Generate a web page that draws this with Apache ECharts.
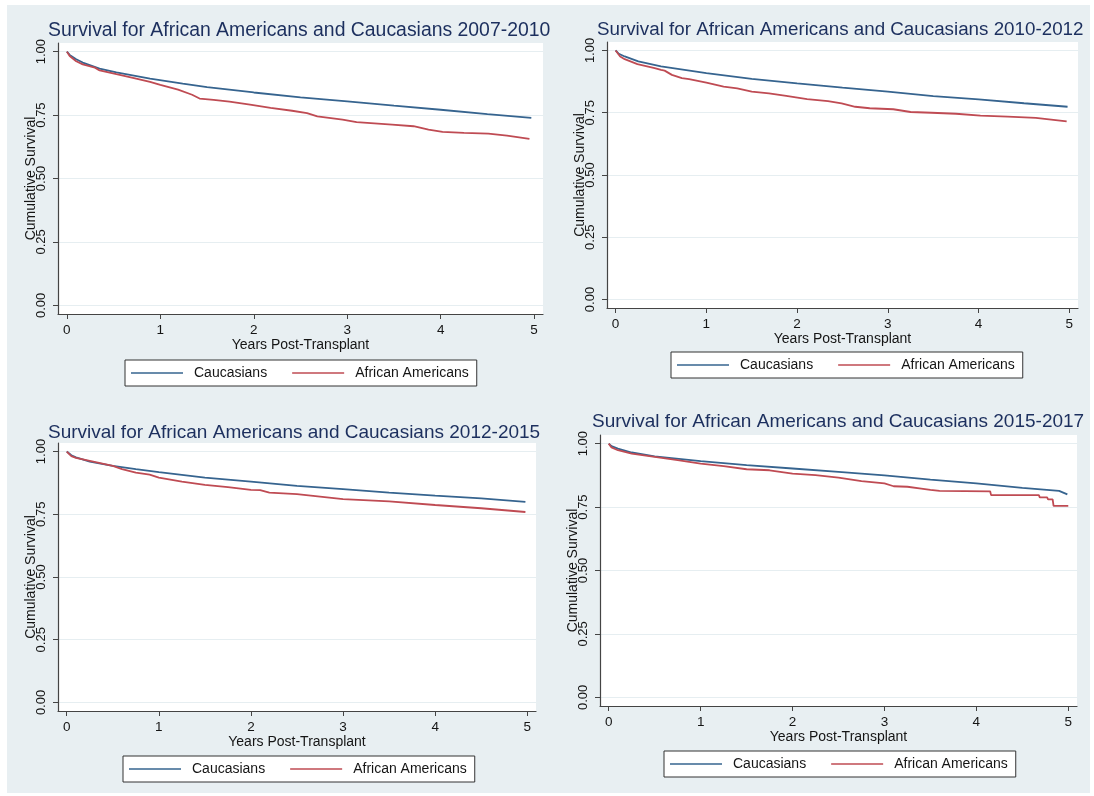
<!DOCTYPE html>
<html><head><meta charset="utf-8">
<script src="https://cdn.jsdelivr.net/npm/echarts@6/dist/echarts.min.js"></script>
<style>html,body{margin:0;padding:0;background:#fff}#c{width:1094px;height:796px}</style>
</head><body><div id="c"></div><script>
// ---- data ----
const titles = [
  'Survival for African Americans and Caucasians 2007-2010',
  'Survival for African Americans and Caucasians 2010-2012',
  'Survival for African Americans and Caucasians 2012-2015',
  'Survival for African Americans and Caucasians 2015-2017'
];
const seriesNames = ['Caucasians', 'African Americans'];
const xName = 'Years Post-Transplant';
const yName = 'Cumulative Survival';
const xTicks = [0, 1, 2, 3, 4, 5];
const yTicks = [0, 0.25, 0.5, 0.75, 1];

const p1CaucT = [0, 0.03, 0.1, 0.17, 0.35, 0.53, 0.89, 1.24, 1.5, 2, 2.5, 3, 3.5, 4, 4.5, 4.97];
const p1CaucS = [1.0, 0.987, 0.970, 0.957, 0.933, 0.918, 0.894, 0.874, 0.860, 0.839, 0.820, 0.804, 0.787, 0.771, 0.754, 0.739];
const p1AfamT = [0, 0.03, 0.1, 0.17, 0.3, 0.35, 0.53, 0.73, 0.89, 1.0, 1.19, 1.34, 1.42, 1.57, 1.74, 1.96, 2.18, 2.41, 2.57, 2.68, 2.95, 3.1, 3.48, 3.71, 3.87, 4.02, 4.25, 4.51, 4.71, 4.95];
const p1AfamS = [1.0, 0.983, 0.962, 0.950, 0.937, 0.926, 0.911, 0.895, 0.881, 0.869, 0.850, 0.830, 0.815, 0.810, 0.803, 0.791, 0.778, 0.767, 0.758, 0.745, 0.732, 0.722, 0.712, 0.706, 0.693, 0.684, 0.680, 0.677, 0.669, 0.656];

const p2CaucT = [0, 0.03, 0.1, 0.25, 0.5, 1, 1.5, 2, 2.5, 3, 3.5, 4, 4.5, 4.98];
const p2CaucS = [1.0, 0.988, 0.976, 0.956, 0.936, 0.909, 0.886, 0.868, 0.851, 0.835, 0.817, 0.804, 0.788, 0.774];
const p2AfamT = [0, 0.05, 0.1, 0.24, 0.43, 0.5, 0.54, 0.62, 0.73, 0.81, 1.0, 1.19, 1.34, 1.5, 1.69, 1.88, 2.11, 2.34, 2.49, 2.64, 2.8, 3.06, 3.25, 3.48, 3.75, 4.02, 4.32, 4.63, 4.97];
const p2AfamS = [1.0, 0.976, 0.965, 0.945, 0.929, 0.922, 0.919, 0.902, 0.889, 0.885, 0.871, 0.855, 0.848, 0.835, 0.828, 0.818, 0.805, 0.797, 0.788, 0.774, 0.768, 0.764, 0.753, 0.750, 0.746, 0.738, 0.734, 0.729, 0.715];

const p3CaucT = [0, 0.05, 0.1, 0.25, 0.5, 0.75, 1, 1.5, 2, 2.5, 3, 3.5, 4, 4.5, 4.98];
const p3CaucS = [1.0, 0.985, 0.977, 0.960, 0.943, 0.930, 0.918, 0.896, 0.880, 0.863, 0.850, 0.836, 0.824, 0.813, 0.799];
const p3AfamT = [0, 0.05, 0.1, 0.25, 0.5, 0.6, 0.75, 0.9, 1, 1.25, 1.5, 1.75, 2, 2.1, 2.2, 2.5, 2.75, 3, 3.5, 4, 4.5, 4.98];
const p3AfamS = [1.0, 0.982, 0.975, 0.963, 0.943, 0.930, 0.916, 0.908, 0.896, 0.880, 0.867, 0.858, 0.847, 0.846, 0.836, 0.830, 0.820, 0.810, 0.801, 0.787, 0.774, 0.759];

const p4CaucT = [0, 0.03, 0.1, 0.25, 0.5, 1, 1.5, 2, 2.5, 3, 3.5, 4, 4.5, 4.9, 4.99];
const p4CaucS = [1.0, 0.990, 0.980, 0.965, 0.950, 0.931, 0.915, 0.902, 0.889, 0.875, 0.858, 0.843, 0.826, 0.814, 0.800];
const p4AfamT = [0, 0.03, 0.1, 0.25, 0.5, 0.75, 1, 1.25, 1.5, 1.75, 2, 2.25, 2.5, 2.75, 3, 3.1, 3.25, 3.4, 3.5, 3.6, 4.15, 4.16, 4.68, 4.69, 4.77, 4.78, 4.83, 4.84, 5.0];
const p4AfamS = [1.0, 0.985, 0.974, 0.961, 0.948, 0.935, 0.921, 0.911, 0.899, 0.895, 0.882, 0.876, 0.866, 0.852, 0.843, 0.832, 0.830, 0.823, 0.818, 0.814, 0.812, 0.797, 0.797, 0.788, 0.788, 0.780, 0.780, 0.755, 0.755];

const panelData = [
  [p1CaucT, p1CaucS, p1AfamT, p1AfamS],
  [p2CaucT, p2CaucS, p2AfamT, p2AfamS],
  [p3CaucT, p3CaucS, p3AfamT, p3AfamS],
  [p4CaucT, p4CaucS, p4AfamT, p4AfamS]
];

// ---- layout & style ----
const layout = [
  {grid: {left: 58, top: 43, width: 485, height: 271}, title: {left: 48, top: 21, size: 19.4}, legend: {left: 125, top: 360}},
  {grid: {left: 607, top: 42, width: 471, height: 266}, title: {left: 597, top: 20, size: 18.8}, legend: {left: 671, top: 352}},
  {grid: {left: 58, top: 443, width: 478, height: 268}, title: {left: 48, top: 423, size: 19}, legend: {left: 123, top: 756}},
  {grid: {left: 600, top: 435, width: 477, height: 271}, title: {left: 592, top: 412, size: 19}, legend: {left: 664, top: 751}}
];
const FONT = '"Liberation Sans", Arial, sans-serif';
const colors = ['#36648f', '#bf4b53'];
const axisColor = '#444';
const textColor = '#151515';

const zip = (t, s) => t.map((v, i) => [v, s[i]]);

const option = {
  animation: false,
  backgroundColor: '#ffffff',
  graphic: [{
    type: 'rect', z: -100, silent: true,
    shape: {x: 7, y: 5, width: 1083, height: 788},
    style: {fill: '#e8eff2'}
  }],
  title: titles.map((t, i) => ({
    text: t, left: layout[i].title.left, top: layout[i].title.top, padding: 0,
    textStyle: {fontFamily: FONT, fontSize: layout[i].title.size, fontWeight: 'normal', color: '#1c2f5e'}
  })),
  legend: layout.map((l, i) => ({
    data: seriesNames, left: l.legend.left, top: l.legend.top, orient: 'horizontal',
    icon: 'rect', itemWidth: 52, itemHeight: 1.7, itemGap: 25,
    textStyle: {fontFamily: FONT, fontSize: 14, color: textColor, padding: [0, 0, 0, 6]},
    backgroundColor: '#fff', borderColor: '#333', borderWidth: 1, borderRadius: 0,
    padding: [6, 8, 6, 6], selectedMode: false
  })),
  grid: layout.map(l => Object.assign({show: true, backgroundColor: '#fff', borderWidth: 0, containLabel: false}, l.grid)),
  xAxis: layout.map((l, i) => ({
    type: 'value', gridIndex: i, min: -0.095, max: 5.095,
    name: xName, nameLocation: 'middle', nameGap: 24, nameMoveOverlap: false,
    nameTextStyle: {fontFamily: FONT, fontSize: 14, color: textColor},
    axisLine: {show: true, onZero: false, lineStyle: {color: axisColor, width: 1.2}},
    axisTick: {show: true, length: 5, customValues: xTicks, lineStyle: {color: axisColor, width: 1}},
    axisLabel: {customValues: xTicks, margin: 9, fontFamily: FONT, fontSize: 13.5, color: textColor},
    splitLine: {show: false}
  })),
  yAxis: layout.map((l, i) => ({
    type: 'value', gridIndex: i, min: -0.034, max: 1.034,
    name: yName, nameLocation: 'middle', nameGap: 20, nameMoveOverlap: false,
    nameTextStyle: {fontFamily: FONT, fontSize: 14, color: textColor},
    axisLine: {show: true, onZero: false, lineStyle: {color: axisColor, width: 1.2}},
    axisTick: {show: true, length: 5, customValues: yTicks, lineStyle: {color: axisColor, width: 1}},
    axisLabel: {customValues: yTicks, rotate: 90, margin: 10, fontFamily: FONT, fontSize: 13, color: textColor,
      formatter: v => Number(v).toFixed(2)},
    splitLine: {show: true, lineStyle: {color: '#e6eef1', width: 1.2}}
  })),
  series: []
};

panelData.forEach((d, i) => {
  option.series.push({
    name: seriesNames[0], type: 'line', xAxisIndex: i, yAxisIndex: i,
    data: zip(d[0], d[1]), symbol: 'none', showSymbol: false,
    lineStyle: {color: colors[0], width: 1.8}, itemStyle: {color: colors[0]}
  });
  option.series.push({
    name: seriesNames[1], type: 'line', xAxisIndex: i, yAxisIndex: i,
    data: zip(d[2], d[3]), symbol: 'none', showSymbol: false,
    lineStyle: {color: colors[1], width: 1.8}, itemStyle: {color: colors[1]}
  });
});

const chart = echarts.init(document.getElementById('c'), null, {renderer: 'canvas'});
chart.setOption(option);
</script></body></html>
